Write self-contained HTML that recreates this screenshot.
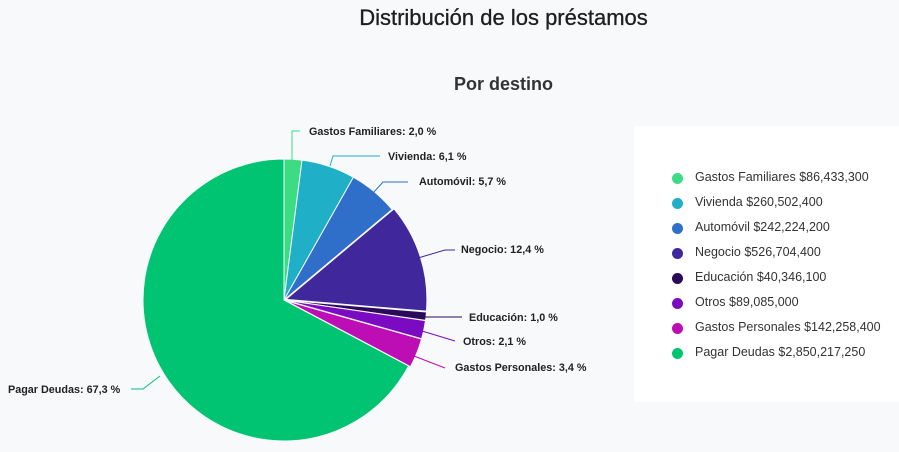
<!DOCTYPE html>
<html><head><meta charset="utf-8"><style>
body{margin:0;width:899px;height:452px;background:#f8f9fb;font-family:"Liberation Sans",sans-serif;overflow:hidden;position:relative}
.t{position:absolute;left:0;width:1007px;text-align:center;color:#1e1e1e}
.lg{position:absolute;left:634px;top:126px;width:265px;height:276px;background:#fff}
.it{position:absolute;left:44px;font-size:12.5px;color:#333;white-space:nowrap}
.it i{position:absolute;left:-6px;top:3px;width:11px;height:11px;border-radius:50%}
.it span{position:absolute;left:17px;top:0}
</style></head><body>
<div class="t" style="top:5px;font-size:22px;-webkit-text-stroke:0.3px #1e1e1e">Distribución de los préstamos</div>
<div class="t" style="top:74px;font-size:18px;font-weight:bold;color:#333">Por destino</div>
<svg id="s" width="899" height="452" style="position:absolute;left:0;top:0" font-family="Liberation Sans,sans-serif" font-size="10.8" font-weight="bold" fill="#222"></svg>
<div class="lg">
<div class="it" style="top:44px"><i style="background:#3ddc84"></i><span>Gastos Familiares $86,433,300</span></div>
<div class="it" style="top:69px"><i style="background:#1fb0c8"></i><span>Vivienda $260,502,400</span></div>
<div class="it" style="top:94px"><i style="background:#2f6fc9"></i><span>Automóvil $242,224,200</span></div>
<div class="it" style="top:119px"><i style="background:#40279c"></i><span>Negocio $526,704,400</span></div>
<div class="it" style="top:144px"><i style="background:#2c0a5a"></i><span>Educación $40,346,100</span></div>
<div class="it" style="top:169px"><i style="background:#7a0bc0"></i><span>Otros $89,085,000</span></div>
<div class="it" style="top:194px"><i style="background:#bd0db5"></i><span>Gastos Personales $142,258,400</span></div>
<div class="it" style="top:219px"><i style="background:#00c472"></i><span>Pagar Deudas $2,850,217,250</span></div>
</div>
<script>
var d=[[86433300,"#3ddc84"],[260502400,"#1fb0c8"],[242224200,"#2f6fc9"],[526704400,"#40279c"],[40346100,"#2c0a5a"],[89085000,"#7a0bc0"],[142258400,"#bd0db5"],[2850217250,"#00c472"]];
var T=0;d.forEach(function(x){T+=x[0]});
var cx=284,cy=300,r=141,a=0,h="";
d.forEach(function(x,i){var b=a+x[0]/T*2*Math.PI;var m=(a+b)/2,o=(i>=3&&i<=6)?2:0;
var X=cx+o*Math.sin(m),Y=cy-o*Math.cos(m);
var x1=X+r*Math.sin(a),y1=Y-r*Math.cos(a),x2=X+r*Math.sin(b),y2=Y-r*Math.cos(b);
h+='<path d="M'+X+','+Y+'L'+x1+','+y1+'A'+r+','+r+' 0 '+((b-a)>Math.PI?1:0)+' 1 '+x2+','+y2+'Z" fill="'+x[1]+'" stroke="#f8f9fb" stroke-width="1"/>';a=b;});
var L=[["Gastos Familiares: 2,0 %",309,135,"292,160 292,131 300,131","#3ddc84"],
["Vivienda: 6,1 %",388,160,"330,166 333,156 380,156","#1fb0c8"],
["Automóvil: 5,7 %",419,185,"373,193 383,182 408,182","#2f6fc9"],
["Negocio: 12,4 %",461,253,"418,258 445,250 455,250","#40279c"],
["Educación: 1,0 %",469,321,"422,317 462,317","#2c0a5a"],
["Otros: 2,1 %",463,345,"422,331 455,341","#7a0bc0"],
["Gastos Personales: 3,4 %",455,371,"414,356 445,368","#bd0db5"],
["Pagar Deudas: 67,3 %",8,393,"160,376 143,389 131,389","#00c472"]];
L.forEach(function(l){h+='<polyline points="'+l[3]+'" fill="none" stroke="'+l[4]+'" stroke-width="1"/><text x="'+l[1]+'" y="'+l[2]+'">'+l[0]+'</text>';});
document.getElementById("s").innerHTML=h;
</script>
</body></html>
